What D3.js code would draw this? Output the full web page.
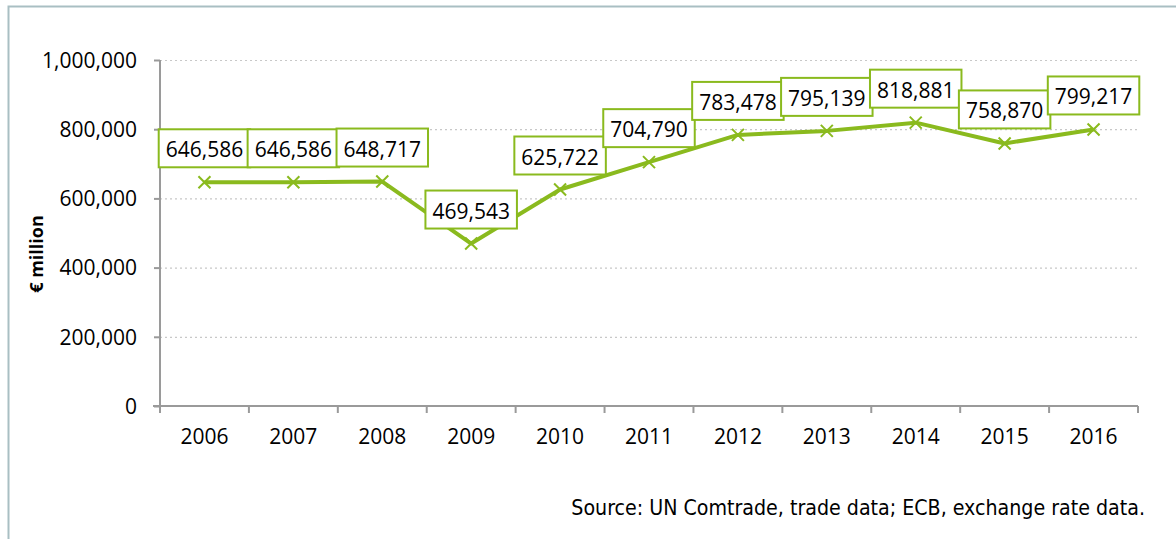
<!DOCTYPE html>
<html>
<head>
<meta charset="utf-8">
<script src="https://cdnjs.cloudflare.com/ajax/libs/d3/7.8.5/d3.min.js"></script>
<style>
body { margin: 0; background: #fff; }
#container { width: 1176px; height: 539px; }
text { font-family: "Open Sans", sans-serif; fill: #000; }
</style>
</head>
<body>
<div id="container"></div>
<script>
// chart data
var years = ["2006", "2007", "2008", "2009", "2010", "2011", "2012", "2013", "2014", "2015", "2016"];
var values = [646586, 646586, 648717, 469543, 625722, 704790, 783478, 795139, 818881, 758870, 799217];
var yTicks = [0, 200000, 400000, 600000, 800000, 1000000];
var yTitle = "€ million";
var sourceText = "Source: UN Comtrade, trade data; ECB, exchange rate data.";

var gWidth = 1176, gHeight = 539;
var green = "#8aba1e";
var axisColor = "#9a9a9a";

var svg = d3.select("#container").append("svg")
	.attr("width", gWidth)
	.attr("height", gHeight);

// outer frame (left and top edges show)
svg.append("path")
	.attr("d", "M8.5," + gHeight + "V6.5H" + (gWidth + 2))
	.attr("fill", "none")
	.attr("stroke", "#a9bfc3")
	.attr("stroke-width", 2);

var plotLeft = 160, plotRight = 1138, plotTop = 60, plotBottom = 406;

var x = d3.scaleBand().domain(years).range([plotLeft, plotRight]);
var y = d3.scaleLinear().domain([0, 1000000]).range([plotBottom, plotTop]);

// gridlines
svg.selectAll(".grid").data(yTicks.filter(function(d) { return d > 0; })).enter().append("line")
	.attr("class", "grid")
	.attr("x1", plotLeft)
	.attr("x2", plotRight)
	.attr("y1", function(d) { return y(d) + 0.5; })
	.attr("y2", function(d) { return y(d) + 0.5; })
	.style("stroke", "#c8c8c8")
	.style("stroke-width", 1.2)
	.style("stroke-dasharray", "2,3");

// Y axis
var yAxis = svg.append("g")
	.attr("transform", "translate(" + plotLeft + ",0)")
	.call(d3.axisLeft(y).tickValues(yTicks).tickSize(6).tickPadding(17).tickFormat(d3.format(",")));
yAxis.select(".domain").remove();
yAxis.selectAll("line").style("stroke", axisColor).style("stroke-width", 2);
yAxis.selectAll("text").style("font-size", "21px").style("font-family", "'Open Sans', sans-serif").attr("dy", "0.35em");
svg.append("line")
	.attr("x1", plotLeft).attr("x2", plotLeft)
	.attr("y1", plotTop).attr("y2", plotBottom + 7)
	.style("stroke", axisColor).style("stroke-width", 2);

// X axis
svg.append("line")
	.attr("x1", plotLeft - 7).attr("x2", plotRight)
	.attr("y1", plotBottom).attr("y2", plotBottom)
	.style("stroke", axisColor).style("stroke-width", 2);
var bounds = years.map(function(d) { return x(d); }).concat([plotRight]);
svg.selectAll(".xTick").data(bounds.slice(1)).enter().append("line")
	.attr("class", "xTick")
	.attr("x1", function(d) { return d; }).attr("x2", function(d) { return d; })
	.attr("y1", plotBottom).attr("y2", plotBottom + 7)
	.style("stroke", axisColor).style("stroke-width", 2);
svg.selectAll(".xLabel").data(years).enter().append("text")
	.attr("class", "xLabel")
	.attr("x", function(d) { return x(d) + x.bandwidth() / 2; })
	.attr("y", 444)
	.attr("text-anchor", "middle")
	.style("font-size", "21px")
	.text(function(d) { return d; });

// Y axis title
svg.append("text")
	.attr("transform", "translate(43,254) rotate(-90)")
	.attr("text-anchor", "middle")
	.style("font-size", "18px")
	.style("font-weight", "bold")
	.text(yTitle);

// line
var cx = function(d, i) { return x(years[i]) + x.bandwidth() / 2; };
var line = d3.line().x(cx).y(function(d) { return y(d); });
svg.append("path")
	.datum(values)
	.attr("d", line)
	.attr("fill", "none")
	.attr("stroke", green)
	.attr("stroke-width", 4)
	.attr("stroke-linejoin", "round");

// X markers
var m = 6;
svg.selectAll(".marker").data(values).enter().append("path")
	.attr("class", "marker")
	.attr("d", function(d, i) {
		var px = cx(d, i), py = y(d);
		return "M" + (px - m) + "," + (py - m) + "L" + (px + m) + "," + (py + m) +
			"M" + (px - m) + "," + (py + m) + "L" + (px + m) + "," + (py - m);
	})
	.attr("stroke", green)
	.attr("stroke-width", 2)
	.attr("fill", "none");

// data labels
var labels = svg.selectAll(".dataLabel").data(values).enter().append("g")
	.attr("class", "dataLabel")
	.attr("transform", function(d, i) { return "translate(" + cx(d, i) + "," + (y(d) - 15) + ")"; });
labels.append("rect")
	.attr("fill", "#fff")
	.attr("stroke", green)
	.attr("stroke-width", 2);
labels.append("text")
	.attr("text-anchor", "middle")
	.attr("y", -10)
	.style("font-size", "21px")
	.text(function(d) { return d3.format(",")(d); });
labels.each(function() {
	var g = d3.select(this);
	var w = g.select("text").node().getComputedTextLength() + 14;
	g.select("rect").attr("x", -w / 2).attr("y", -38).attr("width", w).attr("height", 38);
});

// source note
svg.append("text")
	.attr("x", 1145)
	.attr("y", 515)
	.attr("text-anchor", "end")
	.style("font-family", "'DejaVu Sans Condensed', sans-serif")
	.style("font-size", "21.2px")
	.text(sourceText);
</script>
</body>
</html>
